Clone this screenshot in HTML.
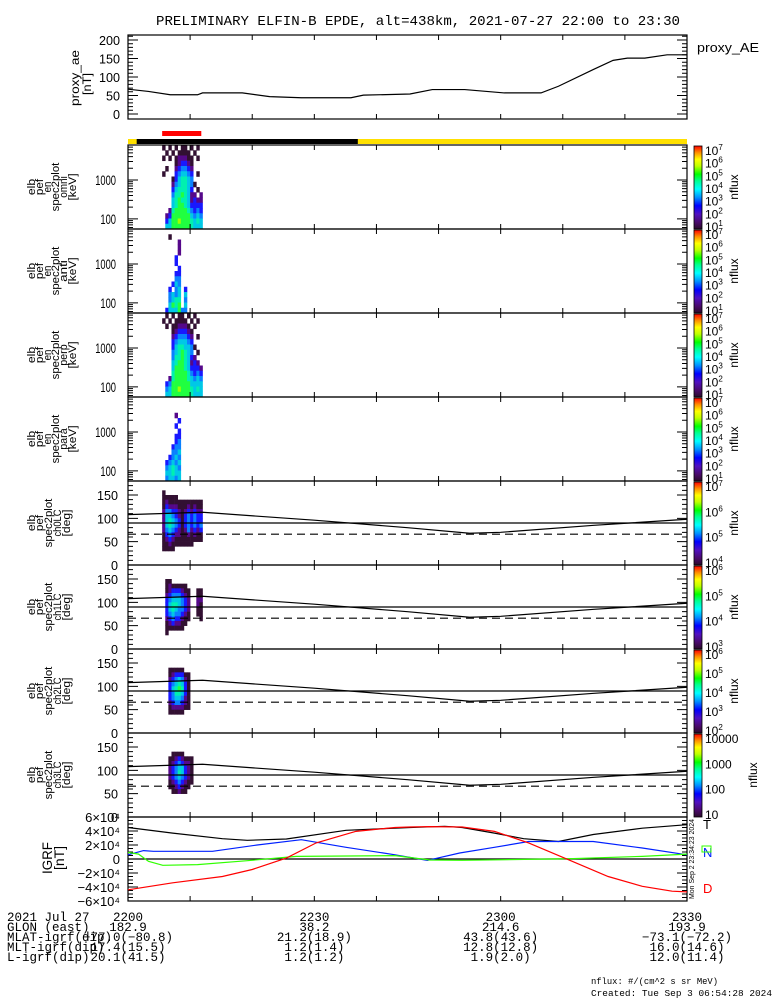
<!DOCTYPE html>
<html><head><meta charset="utf-8">
<style>
html,body{margin:0;padding:0;background:#fff;}
svg{display:block;font-family:"Liberation Sans",sans-serif;}
.mono{font-family:"Liberation Mono",monospace;}
</style></head>
<body>
<svg id="chart" width="775" height="1000" viewBox="0 0 775 1000" xmlns="http://www.w3.org/2000/svg">
<defs>
<linearGradient id="rainbow" x1="0" y1="1" x2="0" y2="0">
<stop offset="0" stop-color="#2a0a2a"/><stop offset="0.08" stop-color="#4a0a6a"/><stop offset="0.18" stop-color="#5010c0"/>
<stop offset="0.28" stop-color="#0000ff"/><stop offset="0.38" stop-color="#0090ff"/><stop offset="0.48" stop-color="#00ffff"/>
<stop offset="0.58" stop-color="#00ff90"/><stop offset="0.66" stop-color="#00ff00"/><stop offset="0.76" stop-color="#c0ff00"/>
<stop offset="0.84" stop-color="#ffff00"/><stop offset="0.92" stop-color="#ff9000"/><stop offset="1" stop-color="#ff0000"/>
</linearGradient>
</defs>
<text class="mono" x="418" y="25" font-size="13.9" text-anchor="middle" textLength="524" lengthAdjust="spacingAndGlyphs">PRELIMINARY ELFIN-B EPDE, alt=438km, 2021-07-27 22:00 to 23:30</text>
</svg>
<script>
// ---------- data ----------
const aeTimes=[0,3.3,6.8,11.2,12,18.4,22.8,27.9,35.9,37.9,45.4,49,54.2,60.6,66.5,69.3,74.9,78.1,80.4,83.2,86.8,90];
const aeValues=[67,61,52,52,57,57,47,44,44,51,54,66,66,57,57,75,120,145,151,151,160,160];
const aeTicks=[0,50,100,150,200];
const sciZoneTimes=[5.5,11.8];
const shadowTimes=[1.4,37];
const timeTickMinutes=[10,20,30,40,50,60,70,80];
const colStart=[5.5,5.5,5.5,5.5,5.5,6.0,6.5,6.5];
const colStep=0.5;
const energyLogMin=1.74, energyLogMax=3.9;
const energyTicks=[100,1000];
const pitchTicks=[0,50,100,150];
const specOmni=["1010101101010","0101011110100","1010122211010","0000123321000","0100234432000","1000345543010","0001356654000","0002456654100","0003566653010","0004667652202","0005676652322","0005677653333","0026777764343","0237777775454","0357787776565","0557777776555"];
const specAnti=["0000000000000","0010000000000","0000020000000","0000020000000","0000020000000","0000300000000","0000300000000","0000030000000","0000330000000","0000440000000","0003540000000","0030450300000","0045450500000","0045660400000","0057670500000","0355574400000"];
const specPerp=["0101011010100","1010111101010","0101122210100","0001233321000","0002344432010","0003455543000","0003566554100","0004567654010","0004667653200","0005677652320","0005777653332","0006777764343","0026777765454","0347777775555","0457787776565","0557777776555"];
const specPara=["0000000000000","0000000000000","0000000000000","0000200000000","0000030000000","0000300000000","0000030000000","0000330000000","0000340000000","0003440000000","0004450000000","0034540000000","0345450000000","0456540000000","0556550000000","0455450000000"];
const pa0=["0000000000000","0000000000000","1000000000000","1111100000000","1211111111111","1322211121211","2443321232322","2554321343433","2565431343433","2565431343434","2454321242323","1343221121211","1232111111111","1121111111000","1111000000000","0000000000000","0000000000000","0000000000000"];
const pa1=["0000000000000","0000000000000","0000000000000","1100000000000","1211111000000","1233321100110","2344432100110","3455543200220","3566543200210","3565443200110","3454432100110","2343321100010","1232211000000","1111110000000","1000000000000","0000000000000","0000000000000","0000000000000"];
const pa2=["0000000000000","0000000000000","0000000000000","0000000000000","1111100000000","1233311000000","2345421000000","3456531000000","3567631000000","3466531000000","3455421000000","2344321000000","1222211000000","1111100000000","0000000000000","0000000000000","0000000000000","0000000000000"];
const pa3=["0000000000000","0000000000000","0000000000000","0000000000000","0111100000000","1123211100000","1234322100000","2345532100000","2346532100000","2345432100000","1234321100000","1123211000000","0112110000000","0000000000000","0000000000000","0000000000000","0000000000000","0000000000000"];
const lcTimes=[0,12,30,45,55,60,75,90];
const lcDeg=[108,113,96,80,68,70,85,98];
const flatDeg=90, dashDeg=66;
const blackT=[0,7.2,15.2,19.2,25.5,35.1,45.4,51,53.8,59,63.7,69.3,74.9,82.8,90];
const blackV=[4.5,3.7,2.9,2.67,2.86,4.1,4.5,4.67,4.5,3.7,2.9,2.5,3.5,4.4,4.9];
const blueT=[0,2.5,4.1,13.6,20.8,27.9,35.1,43,48.2,53.4,59,64.5,74.9,82.8,90];
const blueV=[0.6,1.2,1.1,1.1,2.0,2.76,1.67,0.6,-0.2,0.86,1.67,2.5,2.5,1.57,0.6];
const greenT=[0,1.7,3.3,5.6,11.2,19.2,27.1,43,48.6,53.8,71.7,82.8,90];
const greenV=[0.95,0.7,-0.33,-0.9,-0.8,-0.24,0.38,0.48,-0.14,-0.19,0.05,0.38,0.7];
const redT=[0,7.2,15.2,20,25.5,30.3,36.7,43,45.4,48.5,53.8,59,64.5,70.9,77.3,82.8,87.6,90];
const redV=[-4.4,-3.4,-2.5,-1.5,0.14,2.3,3.95,4.5,4.57,4.62,4.57,3.95,2.3,-0.1,-2.5,-3.9,-4.6,-4.7];
const igrfTickLabels=["6×10⁴","4×10⁴","2×10⁴","0","−2×10⁴","−4×10⁴","−6×10⁴"];
const igrfTickVals=[6,4,2,0,-2,-4,-6];
const footTimes=["2200","2230","2300","2330"];
const footGlon=["182.9","38.2","214.6","193.9"];
const footMlat=["−77.0(−80.8)","21.2(18.9)","43.8(43.6)","−73.1(−72.2)"];
const footMlt=["17.4(15.5)","1.2(1.4)","12.8(12.8)","16.0(14.6)"];
const footL=["20.1(41.5)","1.2(1.2)","1.9(2.0)","12.0(11.4)"];
const cbExp=[[7,6,5,4,3,2,1],[7,6,5,4,3,2,1],[7,6,5,4,3,2,1],[7,6,5,4,3,2,1],[7,6,5,4],[6,5,4,3],[6,5,4,3,2],[4,3,2,1]];

// ---------- helpers ----------
const NS='http://www.w3.org/2000/svg';
const svg=document.getElementById('chart');
function mk(tag,attrs,parent){const e=document.createElementNS(NS,tag);for(const k in attrs)e.setAttribute(k,attrs[k]);(parent||svg).appendChild(e);return e;}
const X0=128,X1=687;
const xT=t=>X0+t*(X1-X0)/90;
const cmap=['none','#321032','#55088a','#1818ff','#0a80ff','#00c8e6','#00f0b0','#20ff40','#a0ff00','#ffff00'];
const PT=145,PH=84;
function panelTop(i){return PT+i*PH;}

// ---------- top proxy AE panel ----------
const aeTop=35,aeBot=119,aeMin=-13.5,aeMax=213.5;
const yAE=v=>aeBot-(v-aeMin)/(aeMax-aeMin)*(aeBot-aeTop);
let g=mk('g',{});


let fr=mk('rect',{x:X0,y:aeTop,width:X1-X0,height:aeBot-aeTop,fill:'none',stroke:'#000','stroke-width':1.2},g);


for(let v=0;v<=210;v+=10){
  const y=yAE(v),L=(v%50===0)?10:5;
  const tk=mk('path',{d:`M${X0} ${y}h${L}M${X1} ${y}h${-L}`,stroke:'#000','stroke-width':1},g);
  
  
}
aeTicks.forEach(v=>{
  const t=mk('text',{x:120,y:yAE(v)+5,'font-size':13,'text-anchor':'end',textLength:String(v).length*7,lengthAdjust:'spacingAndGlyphs'},g);
  t.textContent=v;
  
  
});
timeTickMinutes.forEach(m=>{
  const tk=mk('path',{d:`M${xT(m)} ${aeBot}v-5M${xT(m)} ${aeTop}v5`,stroke:'#000'},g);
  
  
});
let ln=mk('polyline',{points:aeTimes.map((t,i)=>xT(t)+','+yAE(aeValues[i])).join(' '),fill:'none',stroke:'#000','stroke-width':1.2},g);


[['proxy_ae',79,78,56],['[nT]',91,84,22]].forEach(a=>{
  const t=mk('text',{x:a[1],y:a[2],'font-size':12,'text-anchor':'middle',transform:`rotate(-90 ${a[1]} ${a[2]})`,textLength:a[3],lengthAdjust:'spacingAndGlyphs'},g);
  t.textContent=a[0];
  
  
});
let lg=mk('text',{x:697,y:52,'font-size':13,textLength:62,lengthAdjust:'spacingAndGlyphs'},g);
lg.textContent='proxy_AE';



// ---------- status bars ----------
let b=mk('rect',{x:X0,y:139,width:X1-X0,height:5,fill:'#ffe000'});


b=mk('rect',{x:xT(shadowTimes[0]),y:139,width:xT(shadowTimes[1])-xT(shadowTimes[0]),height:5,fill:'#000'});


b=mk('rect',{x:xT(sciZoneTimes[0]),y:131,width:xT(sciZoneTimes[1])-xT(sciZoneTimes[0]),height:5,fill:'#ff0000'});



// ---------- spectrogram panels ----------
const specGrids=[specOmni,specAnti,specPerp,specPara];
const specNames=['omni','anti','perp','para'];
const paGrids=[pa0,pa1,pa2,pa3];
const paNames=['ch0LC','ch1LC','ch2LC','ch3LC'];
function drawColorbar(i,top){
  const r=mk('rect',{x:694,y:top+1,width:8,height:PH-1,fill:'url(#rainbow)',stroke:'#000','stroke-width':0.8});
  
  
  const ex=cbExp[i];
  const n=ex.length;
  ex.forEach((e,k)=>{
    const y=top+6+k*(PH-8)/(n-1)+4;
    const t=mk('text',{x:705,y:y,'font-size':12});
    if(i===7){t.textContent=String(Math.pow(10,e));}
    else{t.textContent='10';const s=mk('tspan',{dy:-5,'font-size':8},t);s.textContent=e;}
    
    
  });
  const cx=i===7?757:738,cy=top+PH/2;
  const nt=mk('text',{x:cx,y:cy,'font-size':12,'text-anchor':'middle',transform:`rotate(-90 ${cx} ${cy})`});
  nt.textContent='nflux';
  
  
}
function drawFrame(top,name){
  const f=mk('rect',{x:X0,y:top,width:X1-X0,height:PH,fill:'none',stroke:'#000','stroke-width':1.2});
  
  
  timeTickMinutes.forEach(m=>{
    const tk=mk('path',{d:`M${xT(m)} ${top+PH}v-5M${xT(m)} ${top}v5`,stroke:'#000'});
    
    
  });
}
function yLabel(lines,xs,cy,name){
  lines.forEach((s,k)=>{
    const t=mk('text',{x:xs[k],y:cy,'font-size':11,'text-anchor':'middle',transform:`rotate(-90 ${xs[k]} ${cy})`,textLength:s.length*5.4,lengthAdjust:'spacingAndGlyphs'});
    t.textContent=s;
    
    
  });
}
for(let p=0;p<4;p++){
  const top=panelTop(p),bot=top+PH;
  const yE=lg10=>bot-(lg10-energyLogMin)/(energyLogMax-energyLogMin)*PH;
  const grid=specGrids[p];
  const nr=grid.length,bh=(energyLogMax-energyLogMin)/nr;
  grid.forEach((row,r)=>{
    for(let c=0;c<row.length;c++){
      const v=+row[c]; if(!v) continue;
      const lgHi=energyLogMax-r*bh;
      const t0=colStart[p]+c*colStep;
      const x0=xT(t0),x1=xT(t0+colStep);
      const cell=mk('rect',{x:x0,y:yE(lgHi),width:x1-x0+0.3,height:yE(lgHi-bh)-yE(lgHi)+0.3,fill:cmap[v]});
      
      
    }
  });
  drawFrame(top,'spec-'+specNames[p]);
  for(let d=1;d<=4;d++){for(let m=1;m<10;m++){
    const lgv=d+Math.log10(m);
    if(lgv<energyLogMin||lgv>energyLogMax) continue;
    const y=yE(lgv),L=m===1?10:5;
    const tk=mk('path',{d:`M${X0} ${y}h${L}M${X1} ${y}h${-L}`,stroke:'#000'});
    
    
  }}
  energyTicks.forEach(v=>{
    const t=mk('text',{x:116,y:yE(Math.log10(v))+5,'font-size':14,'text-anchor':'end',textLength:String(v).length*5.2,lengthAdjust:'spacingAndGlyphs'});
    t.textContent=v;
    
    
  });
  yLabel(['elb','pef','en','spec2plot',specNames[p],'[keV]'],[35,43,51,59,67,76],top+PH/2,'spec-'+specNames[p]);
  drawColorbar(p,top);
}
// ---------- pitch angle panels ----------
for(let p=0;p<4;p++){
  const top=panelTop(4+p),bot=top+PH;
  const yD=d=>bot-d/180*PH;
  const grid=paGrids[p];
  const bh=180/grid.length;
  grid.forEach((row,r)=>{
    for(let c=0;c<row.length;c++){
      const v=+row[c]; if(!v) continue;
      const dHi=180-r*bh;
      const t0=colStart[4+p]+c*colStep;
      const x0=xT(t0),x1=xT(t0+colStep);
      const cell=mk('rect',{x:x0,y:yD(dHi),width:x1-x0+0.3,height:yD(dHi-bh)-yD(dHi)+0.3,fill:cmap[v]});
      
      
    }
  });
  drawFrame(top,'pitch-'+paNames[p]);
  for(let d=0;d<=180;d+=10){
    const y=yD(d),L=d%50===0?10:5;
    const tk=mk('path',{d:`M${X0} ${y}h${L}M${X1} ${y}h${-L}`,stroke:'#000'});
    
    
  }
  pitchTicks.forEach(v=>{
    const t=mk('text',{x:118,y:yD(v)+5,'font-size':13,'text-anchor':'end',textLength:String(v).length*7,lengthAdjust:'spacingAndGlyphs'});
    t.textContent=v;
    
    
  });
  let l=mk('line',{x1:X0,x2:X1,y1:yD(flatDeg),y2:yD(flatDeg),stroke:'#000','stroke-width':1.2});
  
  
  l=mk('line',{x1:X0,x2:X1,y1:yD(dashDeg),y2:yD(dashDeg),stroke:'#000','stroke-width':1.2,'stroke-dasharray':'8 5'});
  
  
  l=mk('polyline',{points:lcTimes.map((t,i)=>xT(t)+','+yD(lcDeg[i])).join(' '),fill:'none',stroke:'#000','stroke-width':1.2});
  
  
  yLabel(['elb','pef','spec2plot',paNames[p],'[deg]'],[35,43,52,61,70],top+PH/2,'pitch-'+paNames[p]);
  drawColorbar(4+p,top);
}
// ---------- IGRF panel ----------
const igTop=817,igBot=901,igMid=859;
const yI=v=>igMid-v*(igMid-igTop)/6;
drawFrame(igTop,'igrf');
igrfTickVals.forEach((v,k)=>{
  for(let m=0;m<4;m++){
    const vv=v+m*0.5; if(vv>6) break;
    const y=yI(vv),L=m===0?10:5;
    const tk=mk('path',{d:`M${X0} ${y}h${L}M${X1} ${y}h${-L}`,stroke:'#000'});
    
    
  }
  const t=mk('text',{x:120,y:yI(v)+5,'font-size':13,'text-anchor':'end'});
  t.textContent=igrfTickLabels[k];
  
  
});
let zl=mk('line',{x1:X0,x2:X1,y1:yI(0),y2:yI(0),stroke:'#000','stroke-width':1.2});


[[blackT,blackV,'#000','igrf-total-line'],[blueT,blueV,'#0020ff','igrf-north-line'],[greenT,greenV,'#30ff00','igrf-east-line'],[redT,redV,'#ff0000','igrf-down-line']].forEach(s=>{
  const l=mk('polyline',{points:s[0].map((t,i)=>xT(t)+','+yI(s[1][i])).join(' '),fill:'none',stroke:s[2],'stroke-width':1.2});
  
  
});
[['IGRF',52,858,32],['[nT]',64,858,24]].forEach(a=>{
  const t=mk('text',{x:a[1],y:a[2],'font-size':14,'text-anchor':'middle',transform:`rotate(-90 ${a[1]} ${a[2]})`,textLength:a[3],lengthAdjust:'spacingAndGlyphs'});
  t.textContent=a[0];
  
  
});
[['T',703,829,'#000'],['N',703,857,'#0020ff'],['D',703,893,'#ff0000']].forEach(a=>{
  const t=mk('text',{x:a[1],y:a[2],'font-size':13,fill:a[3]});
  t.textContent=a[0];
  
  
});
let nb=mk('rect',{x:702,y:846,width:9,height:6,fill:'none',stroke:'#30ff00'});


let st=mk('text',{x:694,y:859,'font-size':7,'text-anchor':'middle',transform:'rotate(-90 694 859)',textLength:80,lengthAdjust:'spacingAndGlyphs'});
st.textContent='Mon Sep  2 23:34:23 2024';



// ---------- footer ----------
const footRows=[['2021 Jul 27',footTimes],['GLON (east)',footGlon],['MLAT-igrf(dip)',footMlat],['MLT-igrf(dip)',footMlt],['L-igrf(dip)',footL]];
const colX=[X0,xT(30),xT(60),X1];
footRows.forEach((r,k)=>{
  const y=921+k*10;
  const t=mk('text',{x:7,y:y,'font-size':12.5,class:'mono'});
  t.textContent=r[0];
  
  
  r[1].forEach((s,c)=>{
    const v=mk('text',{x:colX[c],y:y,'font-size':12.5,class:'mono','text-anchor':'middle'});
    v.textContent=s;
    
    
  });
});
let f1=mk('text',{x:591,y:984,'font-size':9.5,class:'mono',textLength:127,lengthAdjust:'spacingAndGlyphs'});
f1.textContent='nflux: #/(cm^2 s sr MeV)';


let f2=mk('text',{x:591,y:996,'font-size':9.5,class:'mono',textLength:181,lengthAdjust:'spacingAndGlyphs'});
f2.textContent='Created: Tue Sep  3 06:54:28 2024';


</script>
</body></html>
